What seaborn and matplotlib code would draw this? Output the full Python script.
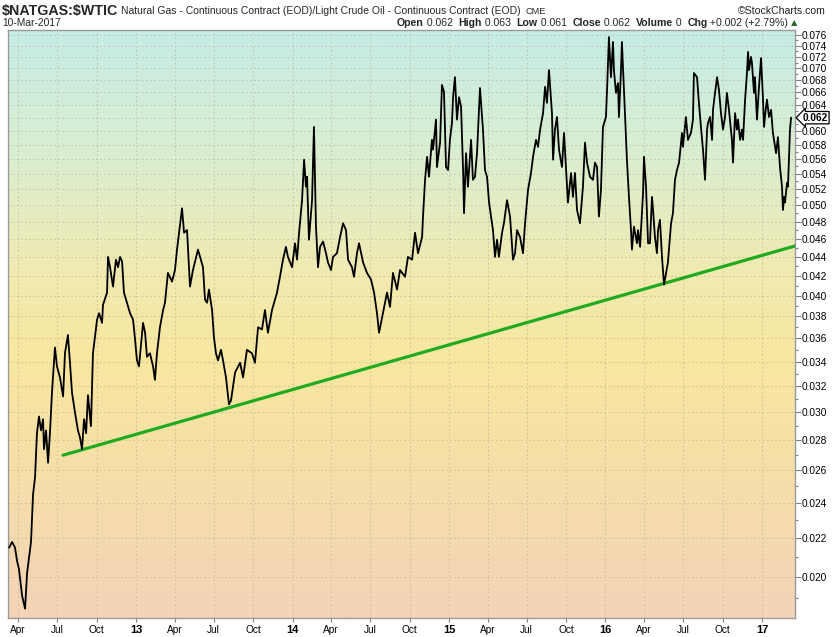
import numpy as np
import pandas as pd
import matplotlib
matplotlib.use("Agg")
import matplotlib.pyplot as plt
import seaborn as sns
from matplotlib.colors import LinearSegmentedColormap
from matplotlib.ticker import FixedLocator, NullFormatter

# ---------------- data (decimal years, ratio) ----------------
years = [
    2012.189, 2012.208, 2012.227, 2012.240, 2012.252, 2012.272, 2012.291, 2012.304, 2012.329, 2012.342,
    2012.355, 2012.367, 2012.380, 2012.393, 2012.406, 2012.412, 2012.425, 2012.438, 2012.450, 2012.463,
    2012.482, 2012.495, 2012.514, 2012.534, 2012.546, 2012.565, 2012.578, 2012.591, 2012.610, 2012.629,
    2012.642, 2012.655, 2012.668, 2012.681, 2012.693, 2012.712, 2012.725, 2012.751, 2012.764, 2012.783,
    2012.789, 2012.815, 2012.821, 2012.834, 2012.853, 2012.872, 2012.885, 2012.898, 2012.911, 2012.923,
    2012.942, 2012.962, 2012.981, 2012.994, 2013.006, 2013.019, 2013.045, 2013.058, 2013.070, 2013.089,
    2013.109, 2013.121, 2013.134, 2013.153, 2013.173, 2013.185, 2013.204, 2013.230, 2013.249, 2013.262,
    2013.294, 2013.307, 2013.326, 2013.345, 2013.364, 2013.396, 2013.428, 2013.441, 2013.454, 2013.466,
    2013.486, 2013.498, 2013.511, 2013.524, 2013.543, 2013.556, 2013.575, 2013.594, 2013.607, 2013.633,
    2013.665, 2013.684, 2013.709, 2013.741, 2013.760, 2013.780, 2013.805, 2013.824, 2013.843, 2013.869,
    2013.901, 2013.920, 2013.939, 2013.958, 2013.971, 2013.997, 2014.016, 2014.029, 2014.042, 2014.061,
    2014.074, 2014.086, 2014.093, 2014.105, 2014.125, 2014.137, 2014.150, 2014.163, 2014.176, 2014.195,
    2014.214, 2014.227, 2014.246, 2014.259, 2014.284, 2014.304, 2014.323, 2014.342, 2014.355, 2014.380,
    2014.393, 2014.412, 2014.425, 2014.451, 2014.476, 2014.502, 2014.521, 2014.540, 2014.553, 2014.578,
    2014.604, 2014.623, 2014.642, 2014.668, 2014.687, 2014.719, 2014.738, 2014.764, 2014.783, 2014.802,
    2014.828, 2014.834, 2014.847, 2014.860, 2014.872, 2014.891, 2014.898, 2014.917, 2014.923, 2014.943,
    2014.955, 2014.968, 2014.981, 2014.994, 2015.006, 2015.019, 2015.026, 2015.038, 2015.051, 2015.064,
    2015.077, 2015.090, 2015.096, 2015.109, 2015.121, 2015.141, 2015.153, 2015.166, 2015.179, 2015.198,
    2015.217, 2015.230, 2015.243, 2015.256, 2015.281, 2015.294, 2015.307, 2015.319, 2015.339, 2015.351,
    2015.371, 2015.390, 2015.409, 2015.422, 2015.435, 2015.454, 2015.473, 2015.486, 2015.505, 2015.524,
    2015.537, 2015.556, 2015.569, 2015.582, 2015.601, 2015.614, 2015.626, 2015.639, 2015.658, 2015.665,
    2015.677, 2015.690, 2015.703, 2015.722, 2015.735, 2015.748, 2015.760, 2015.780, 2015.792, 2015.805,
    2015.818, 2015.837, 2015.856, 2015.869, 2015.882, 2015.901, 2015.920, 2015.933, 2015.946, 2015.958,
    2015.971, 2015.984, 2016.003, 2016.010, 2016.022, 2016.035, 2016.048, 2016.054, 2016.067, 2016.080,
    2016.086, 2016.099, 2016.105, 2016.118, 2016.137, 2016.150, 2016.163, 2016.169, 2016.182, 2016.201,
    2016.208, 2016.221, 2016.240, 2016.246, 2016.259, 2016.272, 2016.284, 2016.297, 2016.304, 2016.316,
    2016.329, 2016.336, 2016.348, 2016.361, 2016.374, 2016.387, 2016.399, 2016.419, 2016.431, 2016.444,
    2016.457, 2016.470, 2016.489, 2016.495, 2016.514, 2016.527, 2016.546, 2016.559, 2016.565, 2016.585,
    2016.597, 2016.610, 2016.623, 2016.636, 2016.649, 2016.655, 2016.668, 2016.681, 2016.687, 2016.700,
    2016.713, 2016.725, 2016.738, 2016.751, 2016.764, 2016.776, 2016.789, 2016.808, 2016.815, 2016.828,
    2016.840, 2016.847, 2016.860, 2016.872, 2016.879, 2016.892, 2016.904, 2016.911, 2016.917, 2016.930,
    2016.936, 2016.949, 2016.955, 2016.968, 2016.981, 2016.994, 2017.006, 2017.013, 2017.026, 2017.032,
    2017.045, 2017.058, 2017.070, 2017.077, 2017.090, 2017.102, 2017.115, 2017.128, 2017.134, 2017.141,
    2017.147, 2017.160, 2017.166, 2017.179, 2017.186,
]
ratio = [
    0.0215, 0.0218, 0.0215, 0.0208, 0.0204, 0.0191, 0.0185, 0.0202, 0.0218, 0.0245,
    0.0256, 0.0285, 0.0297, 0.0287, 0.0295, 0.0274, 0.0287, 0.0265, 0.0285, 0.0315,
    0.0352, 0.0336, 0.0327, 0.0312, 0.0347, 0.0363, 0.0339, 0.0315, 0.0300, 0.0287,
    0.0282, 0.0274, 0.0295, 0.0285, 0.0313, 0.0290, 0.0347, 0.0377, 0.0383, 0.0374,
    0.0391, 0.0403, 0.0440, 0.0429, 0.0409, 0.0437, 0.0429, 0.0440, 0.0435, 0.0403,
    0.0393, 0.0383, 0.0377, 0.0359, 0.0341, 0.0336, 0.0374, 0.0365, 0.0344, 0.0347,
    0.0336, 0.0325, 0.0347, 0.0370, 0.0386, 0.0393, 0.0423, 0.0414, 0.0426, 0.0448,
    0.0496, 0.0467, 0.0470, 0.0409, 0.0426, 0.0448, 0.0429, 0.0396, 0.0393, 0.0406,
    0.0386, 0.0361, 0.0347, 0.0341, 0.0350, 0.0341, 0.0327, 0.0306, 0.0309, 0.0331,
    0.0339, 0.0327, 0.0350, 0.0347, 0.0339, 0.0370, 0.0368, 0.0386, 0.0365, 0.0386,
    0.0403, 0.0419, 0.0437, 0.0451, 0.0440, 0.0429, 0.0455, 0.0437, 0.0467, 0.0506,
    0.0559, 0.0523, 0.0536, 0.0459, 0.0506, 0.0606, 0.0474, 0.0429, 0.0451, 0.0457,
    0.0444, 0.0434, 0.0426, 0.0440, 0.0444, 0.0462, 0.0478, 0.0470, 0.0437, 0.0429,
    0.0419, 0.0444, 0.0455, 0.0434, 0.0423, 0.0416, 0.0403, 0.0383, 0.0365, 0.0383,
    0.0403, 0.0389, 0.0423, 0.0406, 0.0426, 0.0419, 0.0440, 0.0437, 0.0467, 0.0444,
    0.0462, 0.0486, 0.0532, 0.0563, 0.0536, 0.0587, 0.0573, 0.0617, 0.0549, 0.0583,
    0.0672, 0.0661, 0.0549, 0.0545, 0.0587, 0.0612, 0.0652, 0.0685, 0.0617, 0.0652,
    0.0637, 0.0545, 0.0490, 0.0568, 0.0523, 0.0587, 0.0532, 0.0536, 0.0568, 0.0667,
    0.0602, 0.0545, 0.0536, 0.0503, 0.0470, 0.0440, 0.0459, 0.0440, 0.0467, 0.0478,
    0.0506, 0.0486, 0.0437, 0.0444, 0.0470, 0.0462, 0.0444, 0.0478, 0.0519, 0.0541,
    0.0563, 0.0587, 0.0577, 0.0602, 0.0627, 0.0669, 0.0643, 0.0697, 0.0627, 0.0559,
    0.0602, 0.0621, 0.0573, 0.0549, 0.0597, 0.0545, 0.0503, 0.0541, 0.0510, 0.0541,
    0.0494, 0.0478, 0.0523, 0.0583, 0.0555, 0.0536, 0.0532, 0.0555, 0.0549, 0.0486,
    0.0519, 0.0606, 0.0621, 0.0664, 0.0756, 0.0685, 0.0747, 0.0697, 0.0659, 0.0675,
    0.0621, 0.0697, 0.0747, 0.0664, 0.0559, 0.0510, 0.0470, 0.0448, 0.0474, 0.0455,
    0.0470, 0.0451, 0.0515, 0.0563, 0.0523, 0.0455, 0.0455, 0.0510, 0.0494, 0.0462,
    0.0444, 0.0470, 0.0482, 0.0440, 0.0411, 0.0423, 0.0434, 0.0478, 0.0490, 0.0532,
    0.0545, 0.0555, 0.0597, 0.0577, 0.0621, 0.0587, 0.0597, 0.0617, 0.0692, 0.0685,
    0.0643, 0.0606, 0.0573, 0.0532, 0.0602, 0.0612, 0.0621, 0.0587, 0.0632, 0.0659,
    0.0685, 0.0664, 0.0627, 0.0602, 0.0621, 0.0659, 0.0632, 0.0587, 0.0555, 0.0627,
    0.0602, 0.0617, 0.0587, 0.0602, 0.0587, 0.0648, 0.0692, 0.0729, 0.0697, 0.0720,
    0.0709, 0.0659, 0.0685, 0.0617, 0.0669, 0.0718, 0.0652, 0.0606, 0.0637, 0.0648,
    0.0621, 0.0632, 0.0597, 0.0587, 0.0568, 0.0591, 0.0549, 0.0523, 0.0494, 0.0510,
    0.0503, 0.0528, 0.0523, 0.0602, 0.0620,
]

trend_years = [2012.534, 2017.211]
trend_ratio = [0.0270, 0.0452]

xtick_pos = [2012.247, 2012.496, 2012.748, 2013.0, 2013.247, 2013.496, 2013.748, 2014.0,
             2014.247, 2014.496, 2014.748, 2015.0, 2015.247, 2015.496, 2015.748, 2016.0,
             2016.247, 2016.496, 2016.748, 2017.0]
xtick_labels = ["Apr", "Jul", "Oct", "13", "Apr", "Jul", "Oct", "14", "Apr", "Jul", "Oct", "15",
                "Apr", "Jul", "Oct", "16", "Apr", "Jul", "Oct", "17"]
ytick_vals = [0.020, 0.022, 0.024, 0.026, 0.028, 0.030, 0.032, 0.034, 0.036, 0.038, 0.040,
              0.042, 0.044, 0.046, 0.048, 0.050, 0.052, 0.054, 0.056, 0.058, 0.060, 0.062,
              0.064, 0.066, 0.068, 0.070, 0.072, 0.074, 0.076]
ytick_labels = [f"{v:.3f}" for v in ytick_vals]
yminor_vals = [0.019, 0.021, 0.023, 0.025, 0.027, 0.029, 0.031, 0.033, 0.035, 0.037, 0.039,
               0.041, 0.043, 0.045, 0.047, 0.049, 0.051, 0.053, 0.055, 0.057, 0.059, 0.061,
               0.063, 0.065, 0.067, 0.069, 0.071, 0.073, 0.075]

last_close = "0.062"
title_bold = "$NATGAS:$WTIC"
title_rest = "Natural Gas - Continuous Contract (EOD)/Light Crude Oil - Continuous Contract (EOD)"
date_text = "10-Mar-2017"
stats = [("Open", True), (" 0.062  ", False), ("High", True), (" 0.063  ", False),
         ("Low", True), (" 0.061  ", False), ("Close", True), (" 0.062  ", False),
         ("Volume", True), (" 0  ", False), ("Chg", True), (" +0.002 (+2.79%) ", False)]

df = pd.DataFrame({"year": years, "ratio": ratio})
tr = pd.DataFrame({"year": trend_years, "ratio": trend_ratio})

# ---------------- figure ----------------
sns.set_theme(style="white")
plt.rcParams["font.family"] = ["Liberation Sans", "DejaVu Sans"]

W, H = 834, 637
fig = plt.figure(figsize=(W / 100, H / 100), dpi=100)
fig.patch.set_facecolor("white")
ax = fig.add_axes([8 / W, (H - 618) / H, (795 - 8) / W, (618 - 30) / H])

# gradient background
cmap = LinearSegmentedColormap.from_list(
    "bg", [(0.0, "#c6ece6"), (0.2, "#d9eed2"), (0.42, "#f1eaaf"), (0.56, "#f8e7a0"),
           (0.75, "#f6dfa8"), (1.0, "#f4d3b8")])
grad = np.linspace(0, 1, 256).reshape(-1, 1)
ax.imshow(grad, cmap=cmap, aspect="auto", extent=[0, 1, 0, 1], transform=ax.transAxes,
          zorder=0, interpolation="bilinear")

ax.set_yscale("log")
ax.set_xlim(2012.182, 2017.211)
ax.set_ylim(0.01808, 0.07694)

sns.lineplot(data=df, x="year", y="ratio", ax=ax, color="black", linewidth=1.3,
             estimator=None, sort=False, zorder=4)
sns.lineplot(data=tr, x="year", y="ratio", ax=ax, color="#1faa1f", linewidth=2.3,
             estimator=None, zorder=3)

# axes styling
for s in ax.spines.values():
    s.set_color("#9a9a9a")
    s.set_linewidth(1.0)
ax.set_xlabel("")
ax.set_ylabel("")

ax.yaxis.tick_right()
ax.yaxis.set_major_locator(FixedLocator(ytick_vals))
ax.yaxis.set_minor_locator(FixedLocator(yminor_vals))
ax.set_yticklabels(ytick_labels)
ax.yaxis.set_minor_formatter(NullFormatter())
ax.tick_params(axis="y", which="major", right=True, left=False, length=4, width=0.8,
               color="#808080", labelsize=7.3, pad=1, labelcolor="black")
ax.tick_params(axis="y", which="minor", right=True, left=False, length=2.5, width=0.8,
               color="#808080")

ax.set_xticks(xtick_pos)
ax.set_xticklabels(xtick_labels)
ax.tick_params(axis="x", which="major", bottom=True, length=3, width=0.8, color="#808080",
               labelsize=7.3, pad=2, labelcolor="black")
for lbl in ax.get_xticklabels():
    if lbl.get_text().isdigit():
        lbl.set_fontweight("bold")
        lbl.set_fontsize(8)

ax.grid(True, which="major", axis="both", color="#b5b09a", linestyle=(0, (2, 3)),
        linewidth=0.6, alpha=0.75)
ax.set_axisbelow(True)

# last value marker
ax.annotate(last_close, xy=(1.0, 0.062), xycoords=("axes fraction", "data"),
            xytext=(5.5, 0), textcoords="offset points", ha="left", va="center",
            fontsize=7.2, fontweight="bold", color="black", annotation_clip=False,
            bbox=dict(boxstyle="larrow,pad=0.12", fc="white", ec="black", lw=0.9), zorder=10)

# header
fig.text(2 / W, 1 - 11 / H, title_bold, fontsize=10.3, fontweight="bold", va="center",
         ha="left", parse_math=False)
fig.canvas.draw()
renderer = fig.canvas.get_renderer()
t0 = fig.texts[-1]
x_after = t0.get_window_extent(renderer).x1 + 3
t1 = fig.text(x_after / W, 1 - 11 / H, title_rest, fontsize=7.5, va="center", ha="left",
              parse_math=False)
x_cme = t1.get_window_extent(renderer).x1 + 5
fig.text(x_cme / W, 1 - 11 / H, "CME", fontsize=6.6, va="center", ha="left")
fig.text(826 / W, 1 - 11 / H, "\u00a9StockCharts.com", fontsize=7.6, va="center",
         ha="right", color="#222222")
fig.text(2 / W, 1 - 23 / H, date_text, fontsize=7.4, va="center", ha="left")

x = 397
for txt, bold in stats:
    t = fig.text(x / W, 1 - 23 / H, txt, fontsize=7.6, va="center", ha="left",
                 fontweight="bold" if bold else "normal", parse_math=False)
    x = t.get_window_extent(renderer).x1
fig.text(x / W, 1 - 23 / H, "\u25b2", fontsize=6, va="center", ha="left", color="#2a6a2a",
         family=["DejaVu Sans"])

fig.savefig("out.png", dpi=100, facecolor="white")
